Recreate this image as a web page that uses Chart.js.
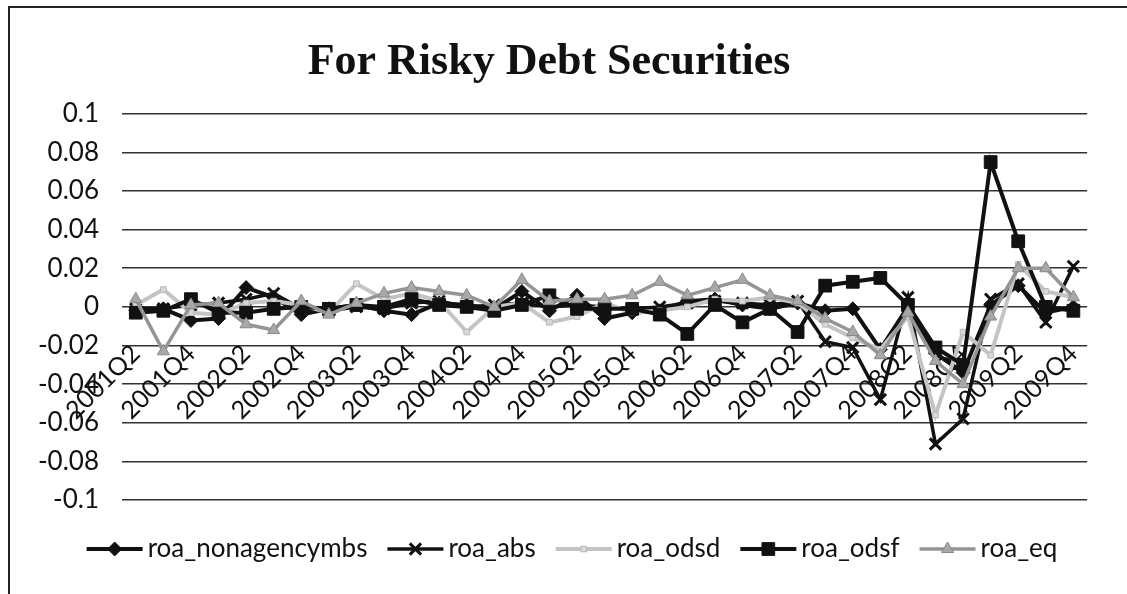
<!DOCTYPE html>
<html>
<head>
<meta charset="utf-8">
<script src="https://cdn.jsdelivr.net/npm/chart.js@4/dist/chart.umd.min.js"></script>
<style>
  html, body { margin: 0; padding: 0; background: #fff; overflow: hidden; }
  #frame { position: absolute; left: 8px; top: 6px; width: 1300px; height: 700px; border: 2px solid #222; }
  #wrap { position: absolute; left: 0; top: 0; width: 1127px; height: 594px; }
</style>
</head>
<body>
<div id="frame"></div>
<div id="wrap"><canvas id="riskyDebtChart"></canvas></div>
<script>
const quarters = [
  '2001Q2', '2001Q3', '2001Q4', '2002Q1', '2002Q2', '2002Q3', '2002Q4',
  '2003Q1', '2003Q2', '2003Q3', '2003Q4', '2004Q1', '2004Q2', '2004Q3', '2004Q4',
  '2005Q1', '2005Q2', '2005Q3', '2005Q4', '2006Q1', '2006Q2', '2006Q3', '2006Q4',
  '2007Q1', '2007Q2', '2007Q3', '2007Q4', '2008Q1', '2008Q2', '2008Q3', '2008Q4',
  '2009Q1', '2009Q2', '2009Q3', '2009Q4'
];

const roaNonagencyMbs = [-0.002, -0.001, -0.007, -0.006, 0.010, 0.005, -0.004, -0.001, 0.001, -0.002, -0.004, 0.002, 0.001, -0.001, 0.008, -0.002, 0.006, -0.006, -0.003, -0.002, 0.003, 0.004, 0.001, -0.001, 0.002, -0.002, -0.001, -0.022, 0.000, -0.024, -0.034, 0.001, 0.011, -0.003, 0.000];
const roaAbs = [-0.001, -0.001, 0.001, 0.002, 0.004, 0.007, -0.001, -0.002, 0.000, -0.001, 0.002, 0.003, 0.000, 0.001, 0.002, 0.000, 0.001, 0.000, -0.001, 0.000, 0.002, 0.003, 0.002, 0.001, 0.003, -0.018, -0.021, -0.048, 0.005, -0.071, -0.058, 0.004, 0.012, -0.008, 0.021];
const roaOdsd = [0.001, 0.009, -0.003, -0.004, 0.002, 0.003, 0.001, -0.003, 0.012, 0.004, 0.007, 0.003, -0.013, 0.000, 0.002, -0.008, -0.005, 0.002, -0.003, -0.002, 0.000, 0.004, 0.003, 0.005, 0.002, -0.009, -0.016, -0.022, -0.005, -0.056, -0.013, -0.025, 0.022, 0.008, 0.005];
const roaOdsf = [-0.003, -0.002, 0.004, -0.003, -0.003, -0.001, 0.000, -0.001, 0.001, 0.000, 0.004, 0.001, 0.000, -0.002, 0.001, 0.006, -0.001, -0.001, -0.001, -0.004, -0.014, 0.001, -0.008, -0.001, -0.013, 0.011, 0.013, 0.015, 0.001, -0.021, -0.030, 0.075, 0.034, 0.000, -0.002];
const roaEq = [0.004, -0.023, 0.001, 0.002, -0.009, -0.012, 0.003, -0.004, 0.002, 0.007, 0.010, 0.008, 0.006, 0.000, 0.014, 0.003, 0.004, 0.004, 0.006, 0.013, 0.006, 0.010, 0.014, 0.006, 0.003, -0.006, -0.013, -0.025, -0.003, -0.028, -0.040, -0.005, 0.020, 0.020, 0.005];

const SANS = "Lato, 'Open Sans', sans-serif";

function series(label, data, color, markerFill, markerLine, style, radius, width, markerWidth, order) {
  return {
    label, data, order,
    borderColor: color, borderWidth: width, tension: 0, fill: false,
    pointStyle: style, pointRadius: radius, pointHoverRadius: radius,
    pointBackgroundColor: markerFill, pointBorderColor: markerLine, pointBorderWidth: markerWidth
  };
}

// legend with a short line and marker in front of each label
const lineLegend = {
  id: 'lineLegend',
  afterDraw(chart, args, opts) {
    const ctx = chart.ctx;
    ctx.save();
    ctx.font = opts.font;
    ctx.textBaseline = 'middle';
    const items = chart.data.datasets.map(ds => ({ ds, w: ctx.measureText(ds.label).width }));
    const total = items.reduce((s, it) => s + opts.iconWidth + opts.textGap + it.w, 0) + opts.itemGap * (items.length - 1);
    let x = opts.centerX - total / 2;
    const y = opts.y;
    items.forEach(({ ds, w }) => {
      ctx.strokeStyle = ds.borderColor;
      ctx.lineWidth = ds.borderWidth;
      ctx.beginPath();
      ctx.moveTo(x, y);
      ctx.lineTo(x + opts.iconWidth, y);
      ctx.stroke();
      ctx.fillStyle = ds.pointBackgroundColor;
      ctx.strokeStyle = ds.pointBorderColor;
      ctx.lineWidth = ds.pointBorderWidth;
      Chart.helpers.drawPoint(ctx, { pointStyle: ds.pointStyle, radius: ds.pointRadius, borderWidth: ds.pointBorderWidth, rotation: 0 }, x + opts.iconWidth / 2, y);
      ctx.fillStyle = '#111';
      ctx.fillText(ds.label, x + opts.iconWidth + opts.textGap, y);
      x += opts.iconWidth + opts.textGap + w + opts.itemGap;
    });
    ctx.restore();
  }
};

new Chart(document.getElementById('riskyDebtChart'), {
  type: 'line',
  data: {
    labels: quarters,
    datasets: [
      series('roa_nonagencymbs', roaNonagencyMbs, '#111', '#111', '#111', 'rectRot', 7, 4, 1, 5),
      series('roa_abs', roaAbs, '#111', '#111', '#111', 'crossRot', 8, 3.5, 3, 4),
      series('roa_odsd', roaOdsd, '#c4c4c4', '#d8d8d8', '#b8b8b8', 'rect', 4, 4, 1, 3),
      series('roa_odsf', roaOdsf, '#111', '#111', '#111', 'rect', 9, 4, 1, 2),
      series('roa_eq', roaEq, '#959595', '#a8a8a8', '#888', 'triangle', 7, 3.5, 1, 1)
    ]
  },
  options: {
    responsive: true, maintainAspectRatio: false, animation: false,
    layout: { padding: { left: 0, right: 29, top: 0, bottom: 94 } },
    plugins: {
      legend: { display: false },
      tooltip: { enabled: false },
      title: {
        display: true, text: 'For Risky Debt Securities', color: '#111',
        font: { family: "'Liberation Serif', 'Times New Roman', serif", size: 44, weight: 'bold', lineHeight: 1.2 },
        padding: { top: 36, bottom: 25 }
      },
      lineLegend: { font: '26px ' + SANS, iconWidth: 56, textGap: 5, itemGap: 20, centerX: 572, y: 549 }
    },
    scales: {
      x: {
        position: { y: 0 },
        offset: true,
        grid: { display: false, drawTicks: false },
        border: { display: false },
        ticks: {
          autoSkip: false, minRotation: 45, maxRotation: 45, padding: 32,
          color: '#111', font: { family: SANS, size: 25 },
          callback(v, i) { return i % 2 === 0 ? this.getLabelForValue(v) : ''; }
        }
      },
      y: {
        min: -0.1, max: 0.1,
        afterFit(scale) { scale.width = 122; },
        grid: { color: '#333', lineWidth: 1.6, drawTicks: false },
        border: { display: false },
        ticks: {
          stepSize: 0.02, padding: 23, color: '#111',
          font: { family: SANS, size: 26 },
          callback: v => String(Math.round(v * 100) / 100)
        }
      }
    }
  },
  plugins: [lineLegend]
});
</script>
</body>
</html>
